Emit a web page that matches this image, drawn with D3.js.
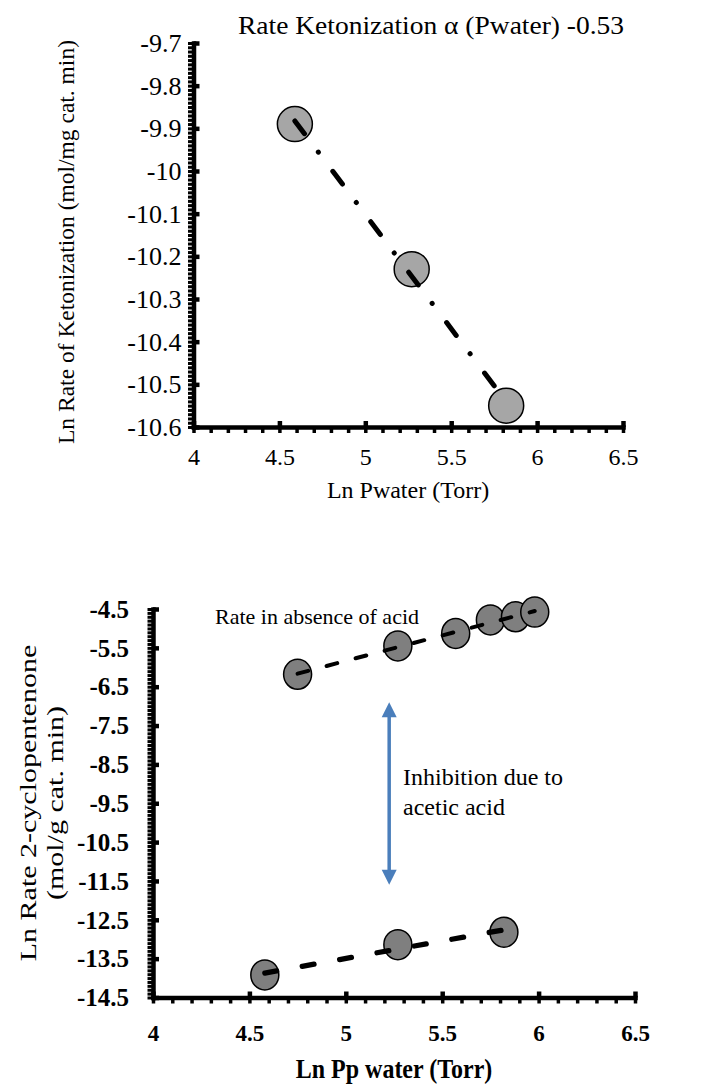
<!DOCTYPE html>
<html>
<head>
<meta charset="utf-8">
<script src="https://cdn.jsdelivr.net/npm/d3@7"></script>
<style>
  body { margin: 0; background: #fff; }
  text { font-family: "Liberation Serif", "Times New Roman", serif; fill: #000; }
</style>
</head>
<body>
<svg id="chart" width="702" height="1085"></svg>
<script>
// top: ketonization rate vs water pressure
let ketoX = [4.59, 5.27, 5.82];
let ketoY = [-9.89, -10.23, -10.55];
let ketoTicksX = [4, 4.5, 5, 5.5, 6, 6.5];
let ketoTicksY = [-9.7, -9.8, -9.9, -10, -10.1, -10.2, -10.3, -10.4, -10.5, -10.6];

// bottom: 2-cyclopentenone rate, without / with acetic acid
let cpX = [4.75, 5.27, 5.57, 5.75, 5.88, 5.98];
let cpY = [-6.18, -5.45, -5.13, -4.78, -4.70, -4.58];
let cpAcidX = [4.58, 5.27, 5.82];
let cpAcidY = [-13.92, -13.14, -12.82];
let cpTicksX = [4, 4.5, 5, 5.5, 6, 6.5];
let cpTicksY = [-4.5, -5.5, -6.5, -7.5, -8.5, -9.5, -10.5, -11.5, -12.5, -13.5, -14.5];

// inhibition arrow (x, from, to)
let arrowX = 5.225;
let arrowY = [-6.9, -11.6];

let svg = d3.select("#chart");
let serif = '"Liberation Serif", "Times New Roman", serif';

// least squares line over the x range of the points (like the excel trendline)
function trend(xs, ys) {
    let mx = d3.mean(xs), my = d3.mean(ys);
    let b = d3.sum(xs, (v, i) => (v - mx) * (ys[i] - my)) / d3.sum(xs, v => (v - mx) * (v - mx));
    let a = my - b * mx;
    let x0 = d3.min(xs), x1 = d3.max(xs);
    return [[x0, a + b * x0], [x1, a + b * x1]];
}

// text with a little stretch, the original picture is not quite square
function label(g, x, y, txt, o) {
    let t = g.append("text")
        .attr("transform", `translate(${x},${y}) scale(${o.sx || 1},${o.sy || 1})` + (o.rot ? " rotate(-90)" : ""))
        .attr("text-anchor", o.anchor || "start")
        .style("font-size", o.size + "px")
        .style("font-weight", o.weight || "normal");
    if (txt) t.text(txt);
    return t;
}

function drawAxes(g, x, y, tx, ty, xMinorStep, yMinorStep, o) {
    let x0 = x.range()[0];
    let y0 = y.range()[0];
    let xd = x.domain(), yd = y.domain();
    let xMinor = d3.range(Math.round((xd[1] - xd[0]) / xMinorStep) + 1).map(i => xd[0] + i * xMinorStep);
    let yMinor = d3.range(Math.round((yd[1] - yd[0]) / yMinorStep) + 1).map(i => yd[0] + i * yMinorStep);

    // minor ticks go outside
    g.append("g")
        .attr("transform", `translate(${x0},0)`)
        .call(d3.axisLeft(y).tickValues(yMinor).tickSize(5.5).tickFormat(""))
        .call(s => s.select(".domain").remove())
        .selectAll("line").attr("stroke", "#000").attr("stroke-width", o.minorW);
    g.append("g")
        .attr("transform", `translate(0,${y0})`)
        .call(d3.axisBottom(x).tickValues(xMinor).tickSize(6).tickFormat(""))
        .call(s => s.select(".domain").remove())
        .selectAll("line").attr("stroke", "#000").attr("stroke-width", 3.5);

    // major ticks go inside
    let ya = g.append("g")
        .attr("transform", `translate(${x0},0)`)
        .call(d3.axisLeft(y).tickValues(ty).tickSizeInner(-6).tickSizeOuter(0).tickPadding(o.yPad)
            .tickFormat(d => String(+d.toFixed(1))));
    let xa = g.append("g")
        .attr("transform", `translate(0,${y0})`)
        .call(d3.axisBottom(x).tickValues(tx).tickSizeInner(-6).tickSizeOuter(0)
            .tickFormat(d => String(d)));

    [ya, xa].forEach(a => {
        a.attr("font-family", null).attr("font-size", null);
        a.select(".domain").attr("stroke", "#000").attr("stroke-width", 4.5).attr("stroke-linecap", "square");
        a.selectAll(".tick line").attr("stroke", "#000").attr("stroke-width", 4.5);
        a.selectAll("text").style("font-family", serif).style("font-weight", o.weight).attr("fill", "#000");
    });
    ya.selectAll("text").style("font-size", o.yFont + "px").attr("dy", "0.33em");
    xa.selectAll("text").style("font-size", o.xFont + "px").attr("dy", null).attr("y", o.xBase);
}

// ---------- top chart ----------
let x1 = d3.scaleLinear().domain([4, 6.5]).range([193.5, 623]);
let y1 = d3.scaleLinear().domain([-10.6, -9.7]).range([427, 43]);
let g1 = svg.append("g");

drawAxes(g1, x1, y1, ketoTicksX, ketoTicksY, 0.1, 0.01,
    {yFont: 26, xFont: 24, weight: "normal", yPad: 12, xBase: 38, minorW: 3});

g1.selectAll("circle").data(ketoX).join("circle")
    .attr("cx", d => x1(d))
    .attr("cy", (d, i) => y1(ketoY[i]))
    .attr("r", 17.5)
    .attr("fill", "#a6a6a6")
    .attr("stroke", "#000")
    .attr("stroke-width", 1.5);

g1.append("path")
    .datum(trend(ketoX, ketoY))
    .attr("d", d3.line().x(d => x1(d[0])).y(d => y1(d[1])))
    .attr("fill", "none")
    .attr("stroke", "#000")
    .attr("stroke-width", 5)
    .attr("stroke-linecap", "round")
    .attr("stroke-dasharray", "16,23,0.1,24");

label(g1, 238, 34, "Rate Ketonization α (Pwater) -0.53", {size: 25, sx: 1.1});
label(g1, 408, 498, "Ln Pwater (Torr)", {size: 24, anchor: "middle"});
label(g1, 74, 242, "Ln Rate of Ketonization (mol/mg cat. min)", {size: 23.5, anchor: "middle", rot: true});

// ---------- bottom chart ----------
let x2 = d3.scaleLinear().domain([4, 6.5]).range([153, 635]);
let y2 = d3.scaleLinear().domain([-14.5, -4.5]).range([997.5, 609]);
let g2 = svg.append("g");

drawAxes(g2, x2, y2, cpTicksX, cpTicksY, 0.1, 0.1,
    {yFont: 25, xFont: 23, weight: "bold", yPad: 24, xBase: 43, minorW: 3});

[[cpX, cpY], [cpAcidX, cpAcidY]].forEach(([xs, ys]) => {
    g2.append("g").selectAll("ellipse").data(xs).join("ellipse")
        .attr("cx", d => x2(d))
        .attr("cy", (d, i) => y2(ys[i]))
        .attr("rx", 14)
        .attr("ry", 15)
        .attr("fill", "#7f7f7f")
        .attr("stroke", "#000")
        .attr("stroke-width", 1.5);
});

g2.append("path")
    .datum(trend(cpX, cpY))
    .attr("d", d3.line().x(d => x2(d[0])).y(d => y2(d[1])))
    .attr("fill", "none")
    .attr("stroke", "#000")
    .attr("stroke-width", 4)
    .attr("stroke-linecap", "round")
    .attr("stroke-dasharray", "11,19");

g2.append("path")
    .datum(trend(cpAcidX, cpAcidY))
    .attr("d", d3.line().x(d => x2(d[0])).y(d => y2(d[1])))
    .attr("fill", "none")
    .attr("stroke", "#000")
    .attr("stroke-width", 5.3)
    .attr("stroke-linecap", "round")
    .attr("stroke-dasharray", "12,26");

// arrow
let ax = x2(arrowX), ayTop = y2(arrowY[0]), ayBot = y2(arrowY[1]);
let blue = "#4a7ebb";
g2.append("line")
    .attr("x1", ax).attr("x2", ax)
    .attr("y1", ayTop + 12).attr("y2", ayBot - 12)
    .attr("stroke", blue).attr("stroke-width", 3.5);
g2.append("path")
    .attr("d", `M${ax},${ayTop} L${ax - 7.5},${ayTop + 15} L${ax + 7.5},${ayTop + 15} Z`)
    .attr("fill", blue);
g2.append("path")
    .attr("d", `M${ax},${ayBot} L${ax - 7.5},${ayBot - 15} L${ax + 7.5},${ayBot - 15} Z`)
    .attr("fill", blue);

label(g2, 215, 624, "Rate in absence of acid", {size: 22});
label(g2, 403, 785, "Inhibition due to", {size: 24});
label(g2, 403, 815, "acetic acid", {size: 24});
label(g2, 394, 1078, "Ln Pp water (Torr)", {size: 24, weight: "bold", anchor: "middle", sy: 1.1});

let yl = label(g2, 0, 803, null, {size: 24, anchor: "middle", rot: true, sy: 1.25});
yl.append("tspan").attr("x", 0).attr("y", 36).text("Ln Rate 2-cyclopentenone");
yl.append("tspan").attr("x", 0).attr("y", 63).text("(mol/g cat. min)");
</script>
</body>
</html>
